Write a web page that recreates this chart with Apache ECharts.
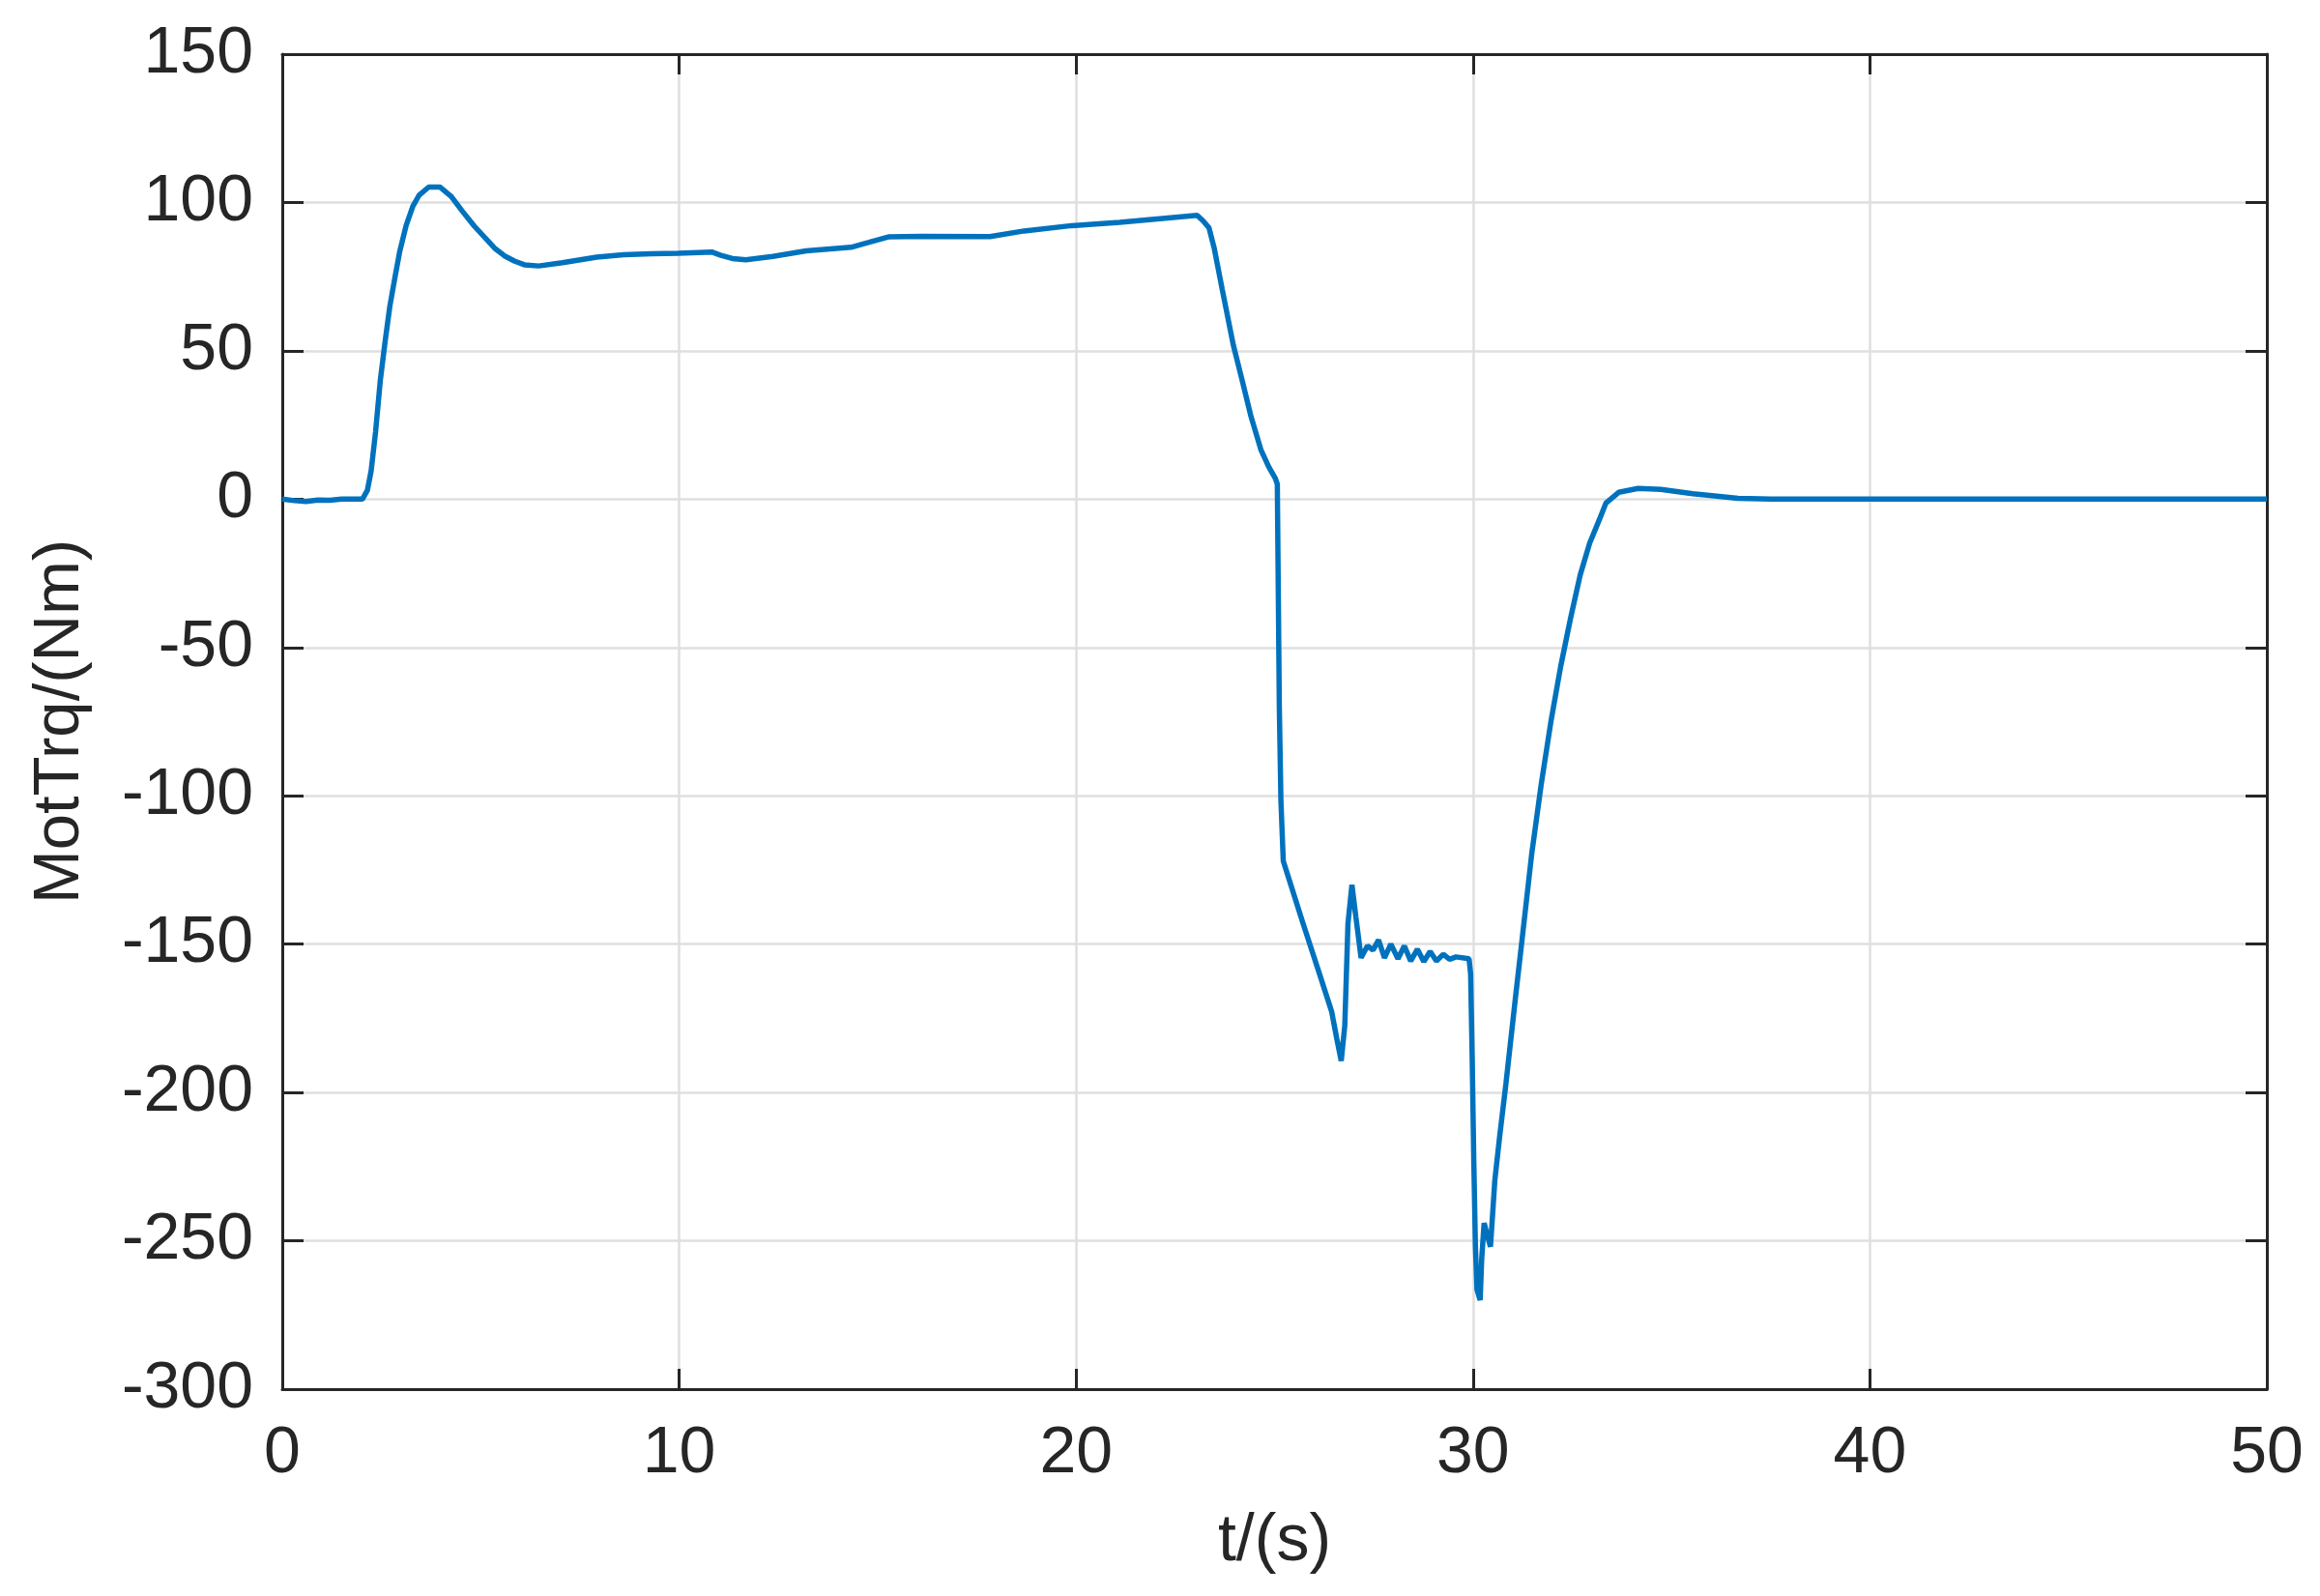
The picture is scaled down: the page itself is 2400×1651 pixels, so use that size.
<!DOCTYPE html>
<html>
<head>
<meta charset="utf-8">
<script src="https://cdn.jsdelivr.net/npm/echarts@6/dist/echarts.min.js"></script>
<style>html,body{margin:0;padding:0;background:#fff}#c{width:2400px;height:1651px}</style>
</head>
<body>
<div id="c"></div>
<script>
// Data
const timeS = [0,0.3,0.6,0.9,1.2,1.5,2.02,2.145,2.24,2.35,2.47,2.59,2.71,2.84,2.96,3.12,3.29,3.45,3.69,3.97,4.26,4.54,4.84,5.35,5.6,5.86,6.1,6.46,7.06,7.92,8.6,9.3,9.97,10.82,11.05,11.34,11.68,12.36,13.2,14.33,14.76,15.27,16.1,17.83,18.69,19.89,21.1,23.05,23.2,23.35,23.48,23.68,23.96,24.17,24.41,24.66,24.85,25.02,25.07,25.1,25.12,25.16,25.22,25.31,25.71,26.12,26.44,26.57,26.68,26.77,26.85,26.95,27.05,27.18,27.34,27.48,27.62,27.77,27.93,28.11,28.27,28.43,28.6,28.76,28.92,29.08,29.25,29.41,29.57,29.9,29.94,29.98,30.02,30.06,30.1,30.18,30.22,30.28,30.36,30.44,30.55,30.67,30.83,31.07,31.24,31.48,31.72,31.97,32.21,32.46,32.7,32.94,33.19,33.35,33.67,34.16,34.73,35.54,36.68,37.5,50];
const motTrq = [0,-0.5,-0.8,-0.3,-0.4,0,0,3,9.6,22.6,40,53,65,74.8,83.5,92.2,98.7,102.5,105.2,105.2,102,97,92,84.6,82,80.2,79,78.6,79.7,81.6,82.4,82.7,82.9,83.3,82.2,81.1,80.7,81.8,83.7,84.9,86.5,88.4,88.6,88.5,90.4,92.2,93.3,95.7,93.8,91.4,84.6,70.8,52,40.8,27.7,16.5,11,7,5,-40,-70,-101.5,-122,-125.8,-142.7,-159.5,-172.8,-182,-189.4,-177.4,-143,-130,-140.9,-154.6,-150.6,-152,-148.6,-154.6,-150,-154.9,-150.6,-155.7,-151.7,-155.9,-152.5,-155.7,-153.4,-155.1,-154.3,-154.9,-160,-188.8,-223,-251.6,-266.4,-270,-256,-244,-248,-252,-229.6,-215,-197,-168,-148,-119.5,-96,-74.4,-56.3,-40,-25.6,-14.8,-6.7,-1.3,2.3,3.6,3.3,1.8,0.3,0,0];
const xTicks = [0,10,20,30,40,50];
const yTicks = [-300,-250,-200,-150,-100,-50,0,50,100,150];
const xLabel = 't/(s)';
const yLabel = 'MotTrq/(Nm)';

const seriesData = timeS.map((t, i) => [t, motTrq[i]]);
const FONT = '"Liberation Sans", Arial, sans-serif';
const TXT = '#262626';
const axLine = {show: true, onZero: false, lineStyle: {color: TXT, width: 3}};
const tickX = {show: true, inside: true, length: 21, lineStyle: {color: TXT, width: 3}};
const tickY = {show: true, inside: true, length: 22, lineStyle: {color: TXT, width: 3}};
const chart = echarts.init(document.getElementById('c'));
chart.setOption({
  animation: false,
  backgroundColor: '#ffffff',
  grid: {left: 292, right: 55, top: 56, bottom: 214, containLabel: false},
  xAxis: [{
    type: 'value', min: xTicks[0], max: xTicks[xTicks.length-1], interval: 10,
    position: 'bottom',
    name: xLabel, nameLocation: 'middle', nameGap: 124,
    nameTextStyle: {fontFamily: FONT, fontSize: 68, color: TXT},
    axisLine: axLine, axisTick: tickX,
    axisLabel: {show: true, margin: 33, fontFamily: FONT, fontSize: 68, color: TXT},
    splitLine: {show: true, lineStyle: {color: '#dfdfdf', width: 2.5}}
  }, {
    type: 'value', min: xTicks[0], max: xTicks[xTicks.length-1], interval: 10,
    position: 'top',
    axisLine: axLine, axisTick: tickX,
    axisLabel: {show: false}, splitLine: {show: false}
  }],
  yAxis: [{
    type: 'value', min: yTicks[0], max: yTicks[yTicks.length-1], interval: 50,
    position: 'left',
    name: yLabel, nameLocation: 'middle', nameGap: 196, nameRotate: 90,
    nameTextStyle: {fontFamily: FONT, fontSize: 67, color: TXT},
    axisLine: axLine, axisTick: tickY,
    axisLabel: {show: true, margin: 30, fontFamily: FONT, fontSize: 68, color: TXT},
    splitLine: {show: true, lineStyle: {color: '#dfdfdf', width: 2.5}}
  }, {
    type: 'value', min: yTicks[0], max: yTicks[yTicks.length-1], interval: 50,
    position: 'right',
    axisLine: axLine, axisTick: tickY,
    axisLabel: {show: false}, splitLine: {show: false}
  }],
  series: [{
    type: 'line', xAxisIndex: 0, yAxisIndex: 0,
    data: seriesData, showSymbol: false, smooth: false,
    lineStyle: {color: '#0072BD', width: 5.5},
    z: 5
  }]
});
</script>
</body>
</html>
